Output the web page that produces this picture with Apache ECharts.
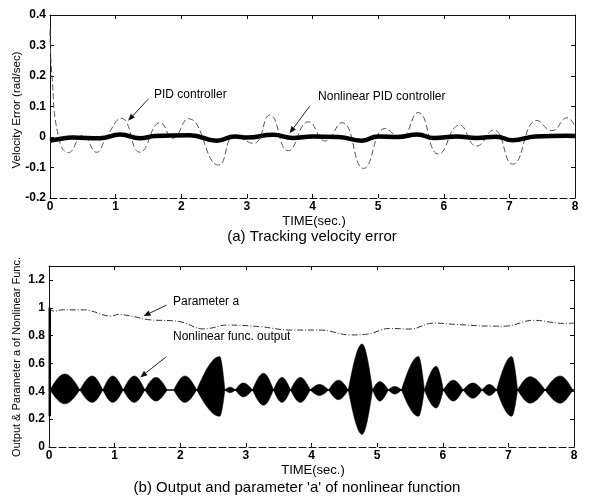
<!DOCTYPE html>
<html><head><meta charset="utf-8">
<script src="https://cdn.jsdelivr.net/npm/echarts@6/dist/echarts.min.js"></script>
<style>html,body{margin:0;padding:0;background:#fff}#c{width:608px;height:498px}</style>
</head><body><div id="c"></div>
<script>
// ---------- (a) Tracking velocity error ----------
const pidT = [0, 0.03, 0.13, 0.28, 0.5, 0.71, 0.86, 1.09, 1.37, 1.68, 1.87, 2.11, 2.57, 2.82, 3.1, 3.35, 3.63, 3.94, 4.19, 4.45, 4.78, 5.11, 5.34, 5.61, 5.92, 6.24, 6.5, 6.76, 7.05, 7.42, 7.65, 7.88, 8.0];
const pidV = [0.35, 0.2, 0.0, -0.051, 0.005, -0.05, 0.0, 0.061, -0.05, 0.047, -0.004, 0.06, -0.092, 0.005, -0.021, 0.072, -0.045, 0.05, -0.013, 0.047, -0.103, 0.028, -0.004, 0.08, -0.056, 0.039, -0.03, 0.023, -0.089, 0.054, 0.021, 0.063, 0.034];
const nlT = [0, 0.1, 0.35, 0.76, 1.07, 1.37, 1.6, 2.13, 2.54, 2.82, 3.0, 3.4, 3.7, 4.0, 4.4, 4.75, 5.0, 5.3, 5.6, 5.85, 6.2, 6.5, 6.8, 7.05, 7.4, 7.88, 8.0];
const nlV = [-0.012, -0.008, -0.002, -0.004, 0.008, -0.004, 0.003, 0.006, -0.012, 0.002, -0.002, 0.007, -0.003, 0.002, 0.0, -0.012, 0.002, 0.0, 0.008, -0.003, 0.002, -0.003, 0.001, -0.011, 0.002, 0.004, 0.003];

// ---------- (b) Output and parameter 'a' ----------
const paramT = [0, 0.08, 0.2, 0.5, 0.62, 0.95, 1.05, 1.31, 1.5, 2.0, 2.35, 2.45, 2.71, 3.22, 3.67, 4.13, 4.59, 4.84, 5.2, 5.5, 5.86, 6.21, 6.77, 6.95, 7.38, 7.84, 8.0];
const paramV = [1.0, 0.975, 0.985, 0.985, 0.98, 0.94, 0.952, 0.935, 0.915, 0.9, 0.848, 0.852, 0.876, 0.864, 0.84, 0.84, 0.805, 0.81, 0.852, 0.847, 0.89, 0.88, 0.868, 0.868, 0.91, 0.888, 0.89];
// envelope lobes of the nonlinear function output (start, peak, end time; top and bottom value)
const lobeStart = [0.015, 0.47, 0.82, 1.13, 1.46, 1.90, 2.25, 2.68, 2.84, 3.10, 3.42, 3.68, 3.98, 4.26, 4.56, 4.93, 5.17, 5.37, 5.72, 6.01, 6.31, 6.60, 6.82, 7.14, 7.56];
const lobePeak  = [0.24, 0.66, 0.97, 1.30, 1.63, 2.07, 2.60, 2.76, 2.96, 3.27, 3.55, 3.83, 4.12, 4.41, 4.77, 5.04, 5.27, 5.63, 5.90, 6.16, 6.46, 6.71, 7.05, 7.33, 7.79];
const lobeEnd   = [0.47, 0.82, 1.13, 1.46, 1.80, 2.25, 2.68, 2.84, 3.10, 3.42, 3.68, 3.98, 4.26, 4.56, 4.93, 5.17, 5.37, 5.72, 6.01, 6.31, 6.60, 6.82, 7.14, 7.56, 7.98];
const lobeTop   = [0.525, 0.51, 0.51, 0.51, 0.50, 0.51, 0.65, 0.43, 0.46, 0.53, 0.50, 0.50, 0.45, 0.48, 0.74, 0.47, 0.435, 0.65, 0.58, 0.48, 0.46, 0.45, 0.65, 0.505, 0.51];
const lobeBottom= [0.31, 0.32, 0.32, 0.32, 0.33, 0.32, 0.22, 0.39, 0.36, 0.30, 0.32, 0.32, 0.37, 0.34, 0.09, 0.33, 0.38, 0.22, 0.28, 0.33, 0.35, 0.37, 0.22, 0.315, 0.315];
const outCenter = 0.41;
const outTransientT = [0.012, 0.012];
const outTransientV = [0.22, 1.0];

const FONT = '"Liberation Sans", Arial, Helvetica, sans-serif';
const zip = (a, b) => a.map((v, i) => [v, b[i]]);

function xAxes(grid) {
  return [
    { type: 'value', gridIndex: grid, min: 0, max: 8, interval: 1, position: 'bottom',
      axisLine: { show: true, onZero: false, lineStyle: { color: '#111', width: 1, type: [7, 3] } },
      axisTick: { show: true, inside: true, length: 4, lineStyle: { color: '#111' } },
      axisLabel: { color: '#000', fontSize: 12, fontWeight: 'bold', fontFamily: FONT, margin: 3 },
      splitLine: { show: false } },
    { type: 'value', gridIndex: grid, min: 0, max: 8, interval: 1, position: 'top',
      axisLine: { show: true, onZero: false, lineStyle: { color: '#111', width: 1 } },
      axisTick: { show: true, inside: true, length: 4, lineStyle: { color: '#111' } },
      axisLabel: { show: false }, splitLine: { show: false } }
  ];
}
function yAxes(grid, min, max, interval) {
  return [
    { type: 'value', gridIndex: grid, min: min, max: max, interval: interval, position: 'left',
      axisLine: { show: true, onZero: false, lineStyle: { color: '#111', width: 1 } },
      axisTick: { show: true, inside: true, length: 4, lineStyle: { color: '#111' } },
      axisLabel: { color: '#000', fontSize: 12, fontWeight: 'bold', fontFamily: FONT, margin: 4, showMaxLabel: grid === 0 },
      splitLine: { show: false } },
    { type: 'value', gridIndex: grid, min: min, max: max, interval: interval, position: 'right',
      axisLine: { show: true, onZero: false, lineStyle: { color: '#111', width: 1 } },
      axisTick: { show: true, inside: true, length: 4, lineStyle: { color: '#111' } },
      axisLabel: { show: false }, splitLine: { show: false } }
  ];
}

function cubic(p0, p1, p2, p3, n, out) {
  for (let k = 1; k <= n; k++) {
    const u = k / n, w = 1 - u;
    out.push([
      w*w*w*p0[0] + 3*w*w*u*p1[0] + 3*w*u*u*p2[0] + u*u*u*p3[0],
      w*w*w*p0[1] + 3*w*w*u*p1[1] + 3*w*u*u*p2[1] + u*u*u*p3[1]
    ]);
  }
}
function lobeItem(params, api) {
  const s = api.value(0), p = api.value(1), e = api.value(2), hi = api.value(3), lo = api.value(4);
  const c = outCenter, k = 0.524;
  const P = (t, v) => api.coord([t, v]);
  const pts = [P(s, c)];
  cubic(P(s, c), P(s + (p - s) / 3, c + k * (hi - c)), P(s + 2 * (p - s) / 3, hi), P(p, hi), 10, pts);
  cubic(P(p, hi), P(p + (e - p) / 3, hi), P(p + 2 * (e - p) / 3, c + k * (hi - c)), P(e, c), 10, pts);
  cubic(P(e, c), P(e - (e - p) / 3, c + k * (lo - c)), P(e - 2 * (e - p) / 3, lo), P(p, lo), 10, pts);
  cubic(P(p, lo), P(p - (p - s) / 3, lo), P(p - 2 * (p - s) / 3, c + k * (lo - c)), P(s, c), 10, pts);
  return { type: 'polygon', shape: { points: pts }, style: { fill: '#000', stroke: '#000', lineWidth: 0.5 } };
}

const option = {
  animation: false,
  backgroundColor: '#fff',
  grid: [
    { left: 50, top: 15, width: 525, height: 183, containLabel: false },
    { left: 49, top: 266, width: 525, height: 181, containLabel: false }
  ],
  xAxis: [...xAxes(0), ...xAxes(1)],
  yAxis: [...yAxes(0, -0.2, 0.4, 0.1), ...yAxes(1, 0, 1.3, 0.2)],
  series: [
    { name: 'PID controller', type: 'line', xAxisIndex: 0, yAxisIndex: 0, data: zip(pidT, pidV),
      smooth: 0.5, showSymbol: false, lineStyle: { color: '#555', width: 1, type: [6, 3] }, z: 3 },
    { name: 'Nonlinear PID controller', type: 'line', xAxisIndex: 0, yAxisIndex: 0, data: zip(nlT, nlV),
      smooth: 0.5, showSymbol: false, lineStyle: { color: '#000', width: 4.5 }, z: 4 },
    { name: 'Output center', type: 'line', xAxisIndex: 2, yAxisIndex: 2,
      data: [[lobeStart[0], outCenter], [lobeEnd[lobeEnd.length - 1], outCenter], [8, outCenter]],
      showSymbol: false, lineStyle: { color: '#000', width: 1.5 } },
    { name: 'Nonlinear func. output', type: 'custom', xAxisIndex: 2, yAxisIndex: 2,
      data: lobeStart.map((s, i) => [s, lobePeak[i], lobeEnd[i], lobeTop[i], lobeBottom[i]]),
      encode: { x: [0, 1, 2], y: [3, 4] }, renderItem: lobeItem, clip: true },
    { name: 'Output transient', type: 'line', xAxisIndex: 2, yAxisIndex: 2, data: zip(outTransientT, outTransientV),
      showSymbol: false, lineStyle: { color: '#000', width: 2.5 } },
    { name: 'Parameter a', type: 'line', xAxisIndex: 2, yAxisIndex: 2, data: zip(paramT, paramV),
      smooth: 0.4, showSymbol: false, lineStyle: { color: '#333', width: 1, type: [6, 2, 1, 2] } }
  ]
};

const chart = echarts.init(document.getElementById('c'), null, { renderer: 'canvas' });
chart.setOption(option);

function px(g, t, v) { return chart.convertToPixel({ xAxisIndex: g * 2, yAxisIndex: g * 2 }, [t, v]); }
function arrow(g, t0, v0, t1, v1) {
  const a = px(g, t0, v0), b = px(g, t1, v1);
  const dx = b[0] - a[0], dy = b[1] - a[1], L = Math.hypot(dx, dy);
  const ux = dx / L, uy = dy / L, nx = -uy, ny = ux, hl = 7, hw = 2.8;
  const base = [b[0] - ux * hl, b[1] - uy * hl];
  return [
    { type: 'line', shape: { x1: a[0], y1: a[1], x2: base[0], y2: base[1] }, style: { stroke: '#222', lineWidth: 1 }, z: 10 },
    { type: 'polygon', shape: { points: [b, [base[0] + nx * hw, base[1] + ny * hw], [base[0] - nx * hw, base[1] - ny * hw]] }, style: { fill: '#111' }, z: 10 }
  ];
}
function label(g, t, v, text) {
  const p = px(g, t, v);
  return { type: 'text', x: p[0], y: p[1], z: 10,
    style: { text: text, fill: '#000', font: '12px ' + FONT, textAlign: 'left', textVerticalAlign: 'middle' } };
}
function freeText(x, y, text, size, rot) {
  return { type: 'text', x: x, y: y, rotation: rot || 0, z: 10,
    style: { text: text, fill: '#000', font: size + 'px ' + FONT, textAlign: 'center', textVerticalAlign: 'middle' } };
}

chart.setOption({
  graphic: [
    label(0, 1.585, 0.14, 'PID controller'),
    ...arrow(0, 1.50, 0.125, 1.19, 0.053),
    label(0, 4.085, 0.132, 'Nonlinear PID controller'),
    ...arrow(0, 3.96, 0.102, 3.65, 0.012),
    label(1, 1.89, 1.047, 'Parameter a'),
    ...arrow(1, 1.79, 1.019, 1.44, 0.94),
    label(1, 1.89, 0.79, 'Nonlinear func. output'),
    ...arrow(1, 1.79, 0.649, 1.39, 0.50),
    freeText(17, 110, 'Velocity Error (rad/sec)', 11.5, Math.PI / 2),
    freeText(17, 357, 'Output & Parameter a of Nonlinear Func.', 11, Math.PI / 2),
    freeText(314, 221, 'TIME(sec.)', 13),
    freeText(312, 237, '(a) Tracking velocity error', 15),
    freeText(313, 470, 'TIME(sec.)', 13),
    freeText(297, 488, "(b) Output and parameter 'a' of nonlinear function", 15)
  ]
});
</script>
</body></html>
